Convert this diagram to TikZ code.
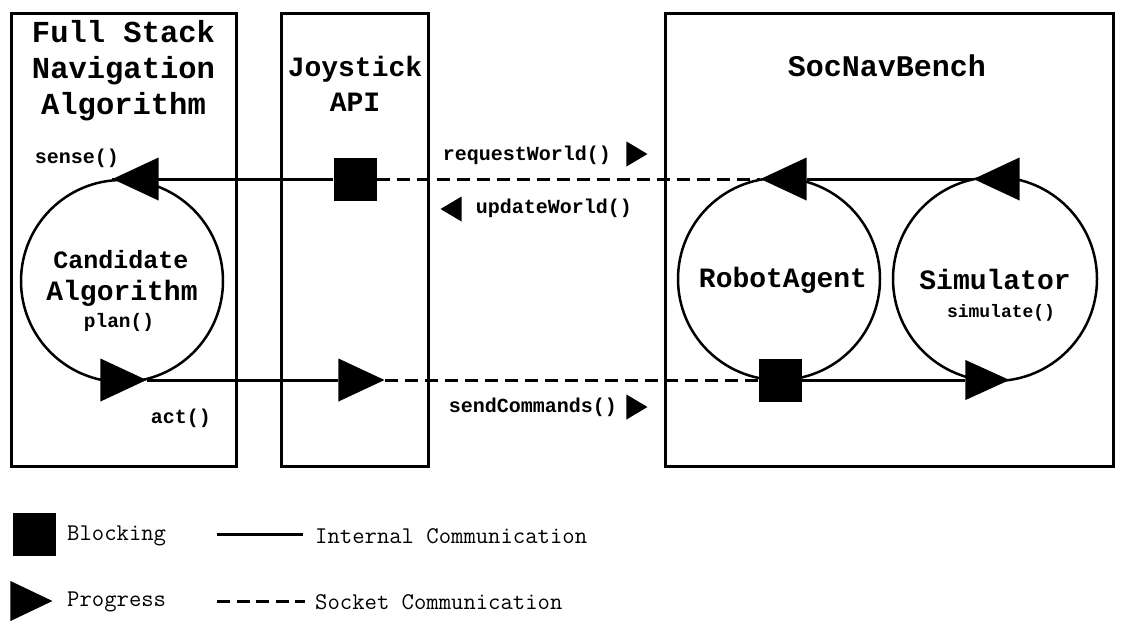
\documentclass[tikz,border=0pt]{standalone}
\usepackage{fontspec}
\setmainfont{Liberation Mono}
\usepackage{tikz}
\usetikzlibrary{shapes.geometric}
\def\hfont{\bfseries\fontsize{28}{35}\selectfont}
\def\ffont{\bfseries\fontsize{20}{24}\selectfont}

\begin{document}
\begin{tikzpicture}[x=1pt, y=-1pt,
	panel/.style={draw, line width=3pt, inner sep=0pt, minimum height=453pt},
	agent/.style={draw, circle, line width=2.5pt, inner sep=0pt},
	blocking/.style={fill, inner sep=0pt, minimum size=43pt},
	progress/.style={isosceles triangle, isosceles triangle stretches, fill, inner sep=0pt, minimum width=43pt, minimum height=46pt},
	progsmall/.style={progress, minimum width=25pt, minimum height=21pt},
	internal/.style={line width=3pt},
	socket/.style={line width=3pt, dash pattern=on 13pt off 7pt},
	heading/.style={font=\hfont, align=center},
	func/.style={font=\ffont},
	legend/.style={font=\ttfamily\fontsize{24}{28}\selectfont, anchor=west, inner sep=0pt}]
	\useasboundingbox (0,0) rectangle (1124,630);
	\node[panel, minimum width=225pt] (fsna) at (123.5,239.5) {};
	\node[panel, minimum width=147pt] (joy) at (354.5,239.5) {};
	\node[panel, minimum width=448pt] (snb) at (889,239.5) {};
	\node[heading, font=\bfseries\fontsize{30.5}{36}\selectfont] (fsnatitle) at (123.5,71) {Full Stack\\Navigation\\Algorithm};
	\node[heading] (joytitle) at (355,84) {Joystick\\API};
	\node[heading, font=\bfseries\fontsize{30}{36}\selectfont] (snbtitle) at (887,66) {SocNavBench};
	\node[agent, minimum size=202pt] (cand) at (122,281) {};
	\node[agent, minimum size=202pt] (robot) at (779,279) {};
	\node[agent, minimum size=204pt] (sim) at (995,279) {};
	\node[heading, font=\bfseries\fontsize{25}{30}\selectfont] (candname) at (121,260) {Candidate};
	\node[heading] (candalg) at (122,293) {Algorithm};
	\node[func, font=\bfseries\fontsize{19.5}{24}\selectfont] (plan) at (119,322) {plan()};
	\node[heading] (robotname) at (783,280) {RobotAgent};
	\node[heading] (simname) at (995,279) {Simulator};
	\node[func, font=\bfseries\fontsize{18}{22}\selectfont] (simulate) at (1001,313) {simulate()};
	\node[func] (sense) at (77,158) {sense()};
	\node[func] (act) at (181,418) {act()};
	\node[func] (request) at (527,155) {requestWorld()};
	\node[func] (update) at (554,208) {updateWorld()};
	\node[func] (send) at (533,407) {sendCommands()};
	\node[progress, shape border rotate=180, anchor=apex] (sensetip) at (112,179) {};
	\node[progress, anchor=apex] (acttip) at (147,380) {};
	\node[blocking] (joyblock) at (355,179) {};
	\node[progress, anchor=apex] (joytip) at (385,380) {};
	\node[progress, shape border rotate=180, anchor=apex] (robottip) at (760,179) {};
	\node[blocking] (robotblock) at (780,380) {};
	\node[progress, shape border rotate=180, anchor=apex] (simtop) at (973,179) {};
	\node[progress, minimum width=40pt, minimum height=44pt, anchor=apex] (simbot) at (1010,380) {};
	\node[progsmall, anchor=apex] (requesttip) at (648,154) {};
	\node[progsmall, shape border rotate=180, anchor=apex] (updatetip) at (440,209) {};
	\node[progsmall, anchor=apex] (sendtip) at (648,407) {};
	\draw[internal] (joyblock) -- (sensetip.apex);
	\draw[internal] (acttip.apex) -- (joytip);
	\draw[socket] (joyblock.east) -- (robottip.apex);
	\draw[socket] (joytip.apex) -- (robotblock.west);
	\draw[internal] (simtop) -- (robottip);
	\draw[internal] (robotblock) -- (simbot);
	\node[blocking] (keyblock) at (34,534) {};
	\node[progress, minimum width=40pt, minimum height=42pt, anchor=apex] (keytip) at (53,601) {};
	\node[legend] (keyblocktext) at (67,536) {Blocking};
	\node[legend] (keytiptext) at (67,602) {Progress};
	\node[legend] (keyinttext) at (315,536) {Internal Communication};
	\node[legend] (keysocktext) at (315,602) {Socket Communication};
	\coordinate (keyint) at (217,534);
	\coordinate (keysock) at (217,601);
	\draw[internal] (keyint) -- ([xshift=-12pt]keyinttext.west |- keyint);
	\draw[socket, dash pattern=on 13pt off 6.5pt] (keysock) -- ([xshift=-10pt]keysocktext.west |- keysock);
\end{tikzpicture}
\end{document}
